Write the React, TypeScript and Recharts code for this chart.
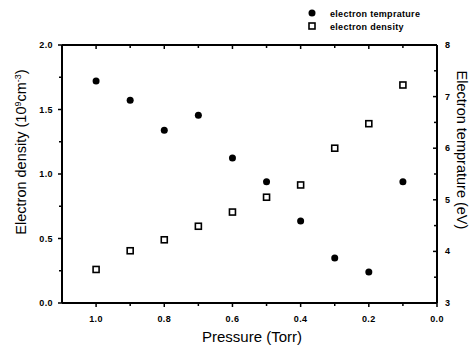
import React from 'react';
import { ScatterChart, Scatter, XAxis, YAxis, Label } from 'recharts';

const pressure = [1.0, 0.9, 0.8, 0.7, 0.6, 0.5, 0.4, 0.3, 0.2, 0.1];
const temperature = [7.3, 6.93, 6.35, 6.64, 5.81, 5.35, 4.59, 3.87, 3.6, 5.35];
const density = [0.26, 0.405, 0.49, 0.595, 0.705, 0.82, 0.915, 1.2, 1.39, 1.69];
const xTicks = [0, 0.1, 0.2, 0.3, 0.4, 0.5, 0.6, 0.7, 0.8, 0.9, 1.0];
const xDomain = [0, 1.1];
const leftTicks = [0, 0.25, 0.5, 0.75, 1.0, 1.25, 1.5, 1.75, 2.0];
const rightTicks = [3, 3.5, 4, 4.5, 5, 5.5, 6, 6.5, 7, 7.5, 8];
const legendNames = ['electron temprature', 'electron density'];

const tempData = pressure.map((p, i) => ({ p, v: temperature[i] }));
const densData = pressure.map((p, i) => ({ p, v: density[i] }));
const topFrame = xDomain.map((p) => ({ p, v: 2 }));
const topTicks = xTicks.map((p) => ({ p, v: 2 }));

const FONT = 'Liberation Sans, Arial, sans-serif';

const BottomTick = (props: any) => {
  const { x, y, payload } = props;
  const v = payload.value;
  const major = Math.round(v * 10) % 2 === 0;
  return (
    <g>
      <line x1={x} y1={y} x2={x} y2={y + (major ? 4 : 3)} stroke="#000" strokeWidth={1.5} />
      {major && (
        <text x={x} y={y + 18.5} textAnchor="middle" fontSize={9} fontWeight="bold" fontFamily={FONT} letterSpacing={0.4} fill="#000">
          {v.toFixed(1)}
        </text>
      )}
    </g>
  );
};

const LeftTick = (props: any) => {
  const { x, y, payload } = props;
  const v = payload.value;
  const major = Math.round(v * 4) % 2 === 0;
  return (
    <g>
      <line x1={x} y1={y} x2={x - (major ? 4 : 3)} y2={y} stroke="#000" strokeWidth={1.5} />
      {major && (
        <text x={x - 9} y={y + 3} textAnchor="end" fontSize={9} fontWeight="bold" fontFamily={FONT} letterSpacing={0.4} fill="#000">
          {v.toFixed(1)}
        </text>
      )}
    </g>
  );
};

const RightTick = (props: any) => {
  const { x, y, payload } = props;
  const v = payload.value;
  const major = Math.round(v * 2) % 2 === 0;
  return (
    <g>
      <line x1={x} y1={y} x2={x - (major ? 4 : 3)} y2={y} stroke="#000" strokeWidth={1.5} />
      {major && (
        <text x={x + 8} y={y + 3} textAnchor="start" fontSize={9} fontWeight="bold" fontFamily={FONT} fill="#000">
          {String(v)}
        </text>
      )}
    </g>
  );
};

const TopTickShape = (props: any) => {
  const p = props.payload ? props.payload.p : 0;
  const major = Math.round(p * 10) % 2 === 0;
  return <line x1={props.cx} y1={props.cy} x2={props.cx} y2={props.cy + (major ? 4 : 3)} stroke="#000" strokeWidth={1.5} />;
};
const EmptyShape = () => <g />;

const CircleShape = (props: any) => <circle cx={props.cx} cy={props.cy} r={3.5} fill="#000" />;
const SquareShape = (props: any) => (
  <rect x={props.cx - 3} y={props.cy - 3} width={6} height={6} fill="#fff" stroke="#000" strokeWidth={1.6} />
);

const LegendContent = () => (
  <g>
    <circle cx={312} cy={13} r={3.5} fill="#000" />
    <text x={330} y={16.5} fontSize={9} fontWeight="bold" fontFamily={FONT} letterSpacing={0.3} fill="#000">
      {legendNames[0]}
    </text>
    <rect x={309} y={23} width={6} height={6} fill="#fff" stroke="#000" strokeWidth={1.6} />
    <text x={330} y={29.5} fontSize={9} fontWeight="bold" fontFamily={FONT} letterSpacing={0.3} fill="#000">
      {legendNames[1]}
    </text>
  </g>
);

export default function App() {
  return (
    <div style={{ position: 'absolute', left: 0, top: 0, background: '#fff' }}>
      <ScatterChart width={473} height={349} margin={{ top: 45, right: 0, bottom: 0, left: 0 }}>
        <XAxis
          xAxisId="b"
          type="number"
          dataKey="p"
          domain={xDomain}
          reversed
          ticks={xTicks}
          tick={<BottomTick />}
          tickSize={0}
          tickMargin={0}
          tickLine={false}
          axisLine={{ stroke: '#000', strokeWidth: 2 }}
          height={46}
          interval={0}
        >
          <Label
            content={() => (
              <g>
                <text x={252} y={342} textAnchor="middle" fontSize={15} fontFamily={FONT} fill="#000">
                  Pressure (Torr)
                </text>
                <LegendContent />
              </g>
            )}
          />
        </XAxis>
        <YAxis
          yAxisId="L"
          type="number"
          dataKey="v"
          domain={[0, 2]}
          ticks={leftTicks}
          tick={<LeftTick />}
          tickSize={0}
          tickMargin={0}
          tickLine={false}
          axisLine={{ stroke: '#000', strokeWidth: 2 }}
          width={62}
          interval={0}
        >
          <Label
            content={() => (
              <text
                x={26}
                y={152}
                transform="rotate(-90 26 152)"
                textAnchor="middle"
                fontSize={14.5}
                fontFamily={FONT}
                fill="#000"
              >
                Electron density (10
                <tspan dy={-5} fontSize={9}>9</tspan>
                <tspan dy={5}>cm</tspan>
                <tspan dy={-5} fontSize={9}>-3</tspan>
                <tspan dy={5}>)</tspan>
              </text>
            )}
          />
        </YAxis>
        <YAxis
          yAxisId="R"
          orientation="right"
          type="number"
          dataKey="v"
          domain={[3, 8]}
          ticks={rightTicks}
          tick={<RightTick />}
          tickSize={0}
          tickMargin={0}
          tickLine={false}
          axisLine={{ stroke: '#000', strokeWidth: 2 }}
          width={36}
          interval={0}
        >
          <Label
            content={() => (
              <text
                x={457}
                y={150}
                transform="rotate(90 457 150)"
                textAnchor="middle"
                fontSize={14.5}
                fontFamily={FONT}
                fill="#000"
              >
                Electron temprature (eV)
              </text>
            )}
          />
        </YAxis>
        <Scatter
          data={topFrame}
          xAxisId="b"
          yAxisId="L"
          line={{ stroke: '#000', strokeWidth: 2 }}
          shape={<EmptyShape />}
          isAnimationActive={false}
        />
        <Scatter
          data={topTicks}
          xAxisId="b"
          yAxisId="L"
          shape={<TopTickShape />}
          isAnimationActive={false}
        />
        <Scatter
          name="electron temprature"
          data={tempData}
          xAxisId="b"
          yAxisId="R"
          shape={<CircleShape />}
          isAnimationActive={false}
        />
        <Scatter
          name="electron density"
          data={densData}
          xAxisId="b"
          yAxisId="L"
          shape={<SquareShape />}
          isAnimationActive={false}
        />
      </ScatterChart>
    </div>
  );
}
